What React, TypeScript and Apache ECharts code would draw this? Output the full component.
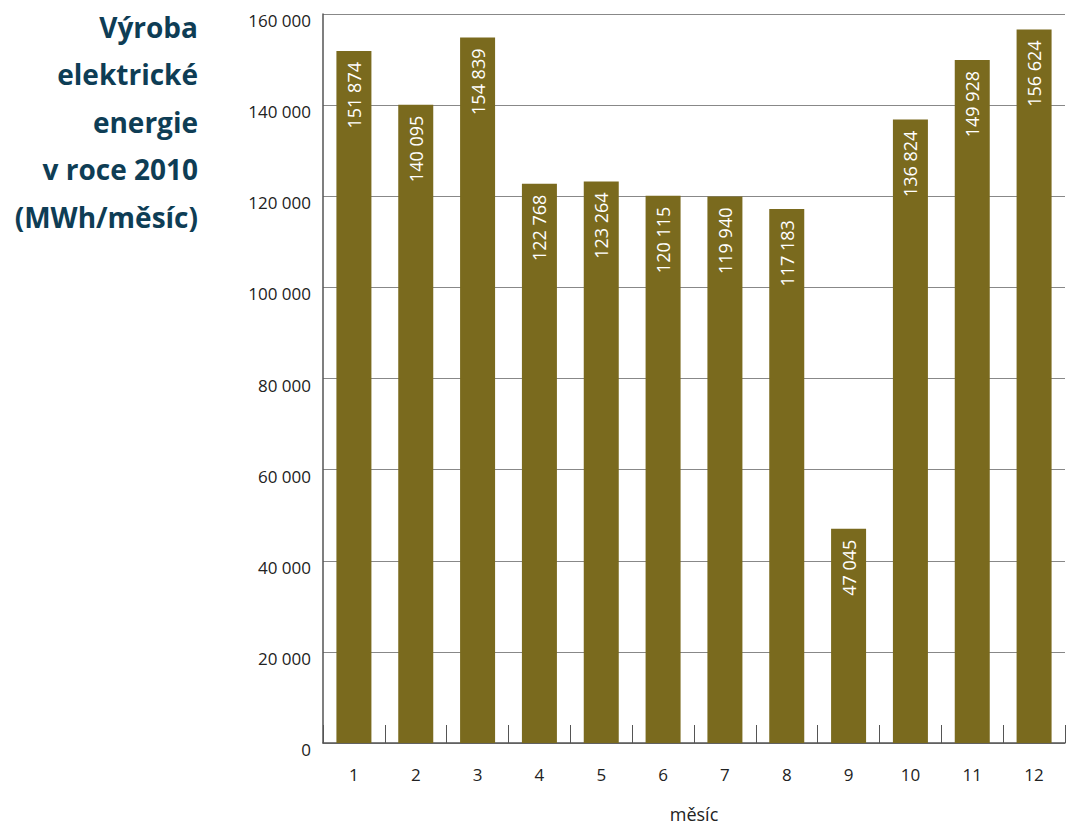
import React, { useEffect, useRef } from "react";
import * as echarts from "echarts";

const months = ["1", "2", "3", "4", "5", "6", "7", "8", "9", "10", "11", "12"];
const production = [151874, 140095, 154839, 122768, 123264, 120115, 119940, 117183, 47045, 136824, 149928, 156624];
const titleLines = ["Výroba", "elektrické", "energie", "v roce 2010", "(MWh/měsíc)"];
const axisName = "měsíc";

const fmt = (v: number) => String(v).replace(/\B(?=(\d{3})+(?!\d))/g, " ");

export default function App() {
  const ref = useRef<HTMLDivElement>(null);
  useEffect(() => {
    if (!ref.current) return;
    const chart = echarts.init(ref.current, null, { renderer: "svg" });
    const font = "'Open Sans', 'Noto Sans', sans-serif";
    chart.setOption({
      animation: false,
      textStyle: { fontFamily: font },
      grid: { left: 323, right: 2, top: 14, bottom: 82, containLabel: false, outerBoundsMode: "none" },
      graphic: [
        {
          type: "text",
          right: 1067 - 198,
          top: 3,
          style: {
            text: titleLines.join("\n"),
            fill: "#0e3d55",
            font: `bold 28px ${font}`,
            lineHeight: 47.5,
            textAlign: "right",
          },
        },
      ],
      xAxis: {
        type: "category",
        data: months,
        name: axisName,
        nameLocation: "middle",
        nameGap: 62,
        nameTextStyle: { color: "#222", fontSize: 18, lineHeight: 18, fontFamily: font },
        axisLine: { show: true, lineStyle: { color: "#555", width: 1.5 } },
        axisTick: { show: true, inside: true, length: 18, interval: 0, lineStyle: { color: "#555" } },
        axisLabel: { color: "#222", fontSize: 17, margin: 23, fontFamily: font },
      },
      yAxis: {
        type: "value",
        min: 0,
        max: 160000,
        interval: 20000,
        axisLine: { show: true, lineStyle: { color: "#555", width: 1.5 } },
        axisTick: { show: false },
        splitLine: { show: true, lineStyle: { color: "#888", width: 1.2 } },
        axisLabel: {
          color: "#222",
          fontSize: 17,
          margin: 12,
          verticalAlign: "top",
          lineHeight: 13,
          fontFamily: font,
          formatter: (v: number) => fmt(v),
        },
      },
      series: [
        {
          type: "bar",
          data: production,
          barWidth: 35,
          itemStyle: { color: "#7a6a1e" },
          label: {
            show: true,
            position: "insideTop",
            rotate: 90,
            align: "right",
            verticalAlign: "middle",
            distance: 11,
            color: "#ffffff",
            fontSize: 18,
            fontFamily: font,
            formatter: (p: any) => fmt(p.value),
          },
        },
      ],
    });
    return () => chart.dispose();
  }, []);
  return <div ref={ref} style={{ width: 1067, height: 825, position: "absolute", left: 0, top: 0 }} />;
}
